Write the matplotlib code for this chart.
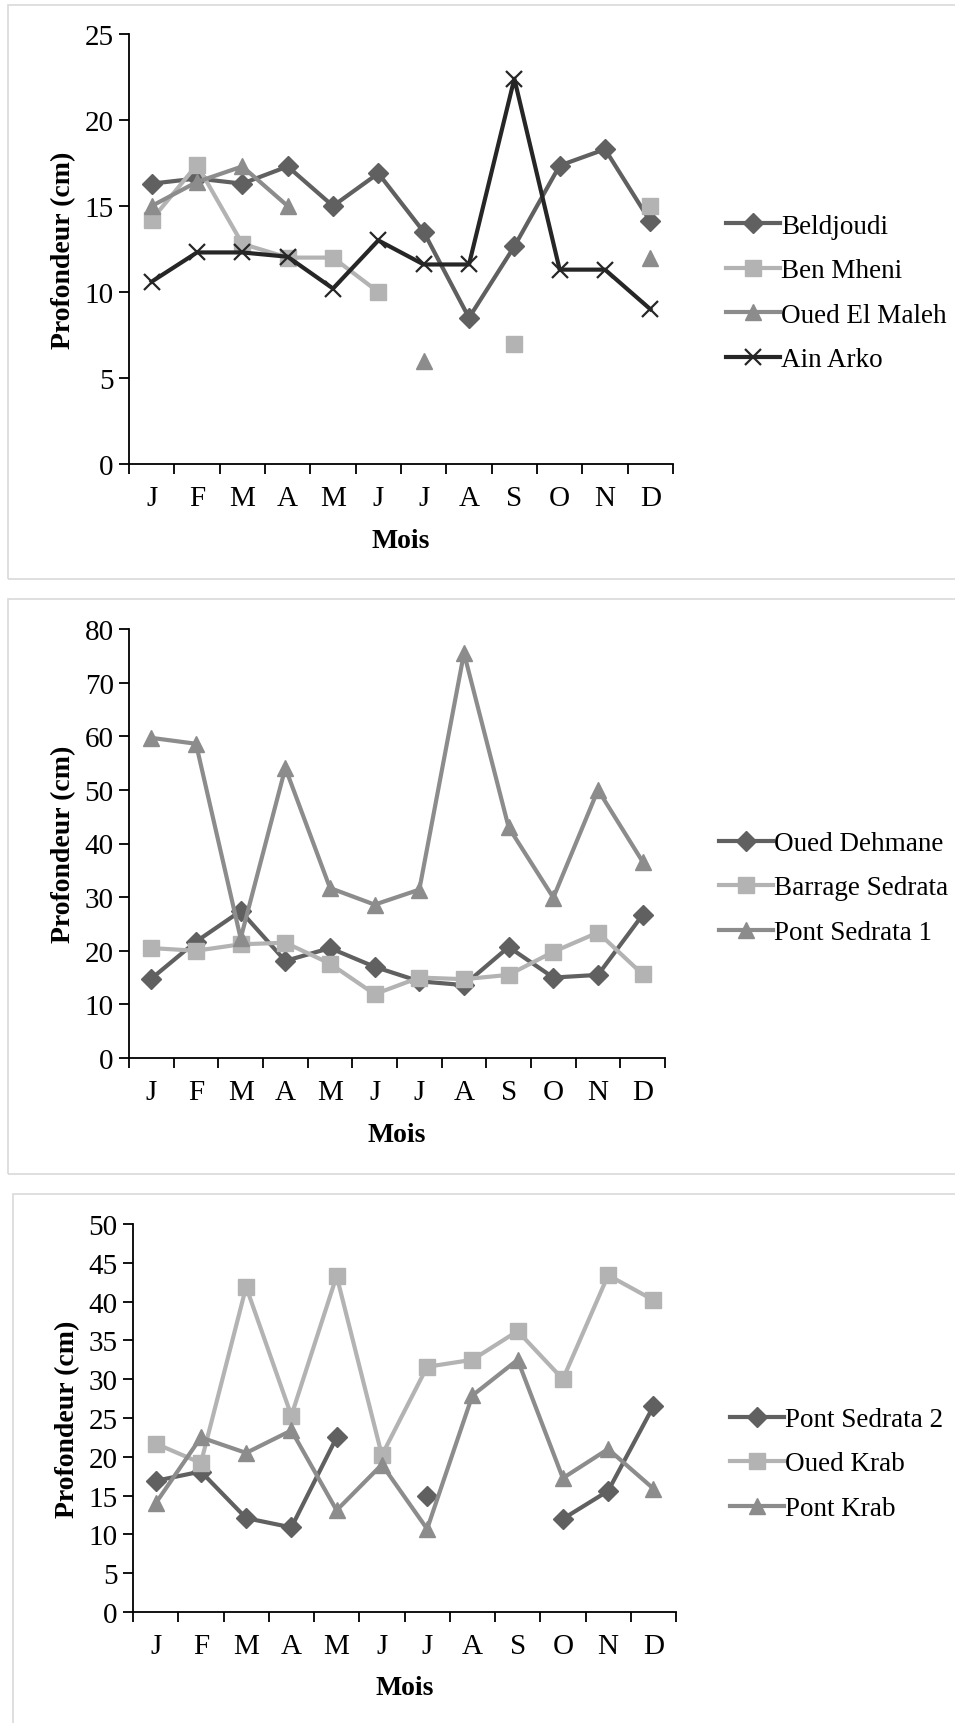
import numpy as np
import matplotlib.pyplot as plt
from matplotlib.patches import Rectangle

plt.rcParams['font.family'] = ['Liberation Serif', 'DejaVu Serif']

mois = ['J', 'F', 'M', 'A', 'M', 'J', 'J', 'A', 'S', 'O', 'N', 'D']
nan = np.nan

# panneau 1
beldjoudi = [16.3, 16.6, 16.3, 17.3, 15.0, 16.9, 13.5, 8.5, 12.65, 17.35, 18.3, 14.1]
ben_mheni = [14.2, 17.4, 12.8, 12.0, 12.0, 10.0, nan, nan, 7.0, nan, nan, 15.0]
oued_el_maleh = [15.0, 16.4, 17.3, 15.0, nan, nan, 6.0, nan, nan, nan, nan, 12.0]
ain_arko = [10.6, 12.3, 12.3, 12.05, 10.2, 13.0, 11.6, 11.6, 22.4, 11.3, 11.3, 9.0]

# panneau 2
oued_dehmane = [14.8, 21.7, 27.4, 18.1, 20.5, 17.0, 14.3, 13.6, 20.7, 15.0, 15.5, 26.7]
barrage_sedrata = [20.5, 20.0, 21.2, 21.5, 17.6, 11.9, 15.0, 14.7, 15.5, 19.8, 23.4, 15.6]
pont_sedrata_1 = [59.7, 58.6, 22.3, 54.1, 31.7, 28.6, 31.4, 75.5, 43.0, 29.9, 50.0, 36.6]

# panneau 3
pont_sedrata_2 = [16.9, 18.1, 12.1, 10.9, 22.5, nan, 14.9, nan, nan, 12.0, 15.6, 26.5]
oued_krab = [21.7, 19.2, 41.9, 25.3, 43.3, 20.2, 31.6, 32.5, 36.2, 30.0, 43.4, 40.2]
pont_krab = [14.0, 22.5, 20.5, 23.4, 13.1, 19.0, 10.7, 27.9, 32.5, 17.25, 21.0, 15.9]

W, H = 955, 1724
fig = plt.figure(figsize=(W / 100, H / 100), dpi=100)

# cadres gris autour des graphiques
for (x0, y0, x1, y1) in [(8, 6, 960, 580), (8, 600, 960, 1175), (13, 1195, 960, 1730)]:
    fig.patches.append(Rectangle((x0 / W, 1 - y1 / H), (x1 - x0) / W, (y1 - y0) / H,
                                 transform=fig.transFigure, fill=False,
                                 edgecolor='#d9d9d9', lw=1.2))

styles = {
    'diamond': dict(color='#606060', marker='D', markersize=10),
    'square': dict(color='#b3b3b3', marker='s', markersize=11),
    'triangle': dict(color='#8c8c8c', marker='^', markersize=12),
    'cross': dict(color='#262626', marker='x', markersize=12, markeredgewidth=1.6),
}


def panel(box, series, ymax, ystep, leg_xy):
    left, top, right, bottom = box
    ax = fig.add_axes([left / W, 1 - bottom / H, (right - left) / W, (bottom - top) / H])
    x = np.arange(12) + 0.5
    for label, values, st in series:
        ax.plot(x, values, lw=3, label=label, **styles[st])
    ax.set_xlim(0, 12)
    ax.set_ylim(0, ymax)
    ax.set_yticks(np.arange(0, ymax + 1, ystep))
    ax.set_xticks(np.arange(13))
    ax.set_xticklabels([])
    ax.set_xticks(x, minor=True)
    ax.set_xticklabels(mois, minor=True)
    ax.tick_params(axis='x', which='major', length=7, width=1.3, direction='out')
    ax.tick_params(axis='x', which='minor', length=0, pad=15, labelsize=21)
    ax.tick_params(axis='y', length=7, width=1.3, direction='out', labelsize=21, pad=4)
    for s in ['top', 'right']:
        ax.spines[s].set_visible(False)
    for s in ['left', 'bottom']:
        ax.spines[s].set_linewidth(1.3)
    ax.set_xlabel('Mois', fontsize=20, fontweight='bold', labelpad=12)
    ax.set_ylabel('Profondeur (cm)', fontsize=20, fontweight='bold', labelpad=6)
    ax.legend(loc='center left', bbox_to_anchor=(leg_xy[0] / W, 1 - leg_xy[1] / H),
              bbox_transform=fig.transFigure, frameon=False, fontsize=19.5,
              handlelength=2.0, handletextpad=0.05, labelspacing=0.72, borderpad=0)
    return ax


panel((129, 35, 673, 465),
      [('Beldjoudi', beldjoudi, 'diamond'),
       ('Ben Mheni', ben_mheni, 'square'),
       ('Oued El Maleh', oued_el_maleh, 'triangle'),
       ('Ain Arko', ain_arko, 'cross')], 25, 5, (712, 294))

panel((129, 630, 665, 1059),
      [('Oued Dehmane', oued_dehmane, 'diamond'),
       ('Barrage Sedrata', barrage_sedrata, 'square'),
       ('Pont Sedrata 1', pont_sedrata_1, 'triangle')], 80, 10, (705, 889))

panel((133, 1225, 676, 1613),
      [('Pont Sedrata 2', pont_sedrata_2, 'diamond'),
       ('Oued Krab', oued_krab, 'square'),
       ('Pont Krab', pont_krab, 'triangle')], 50, 5, (716, 1465))

fig.savefig('out.png', dpi=100)
